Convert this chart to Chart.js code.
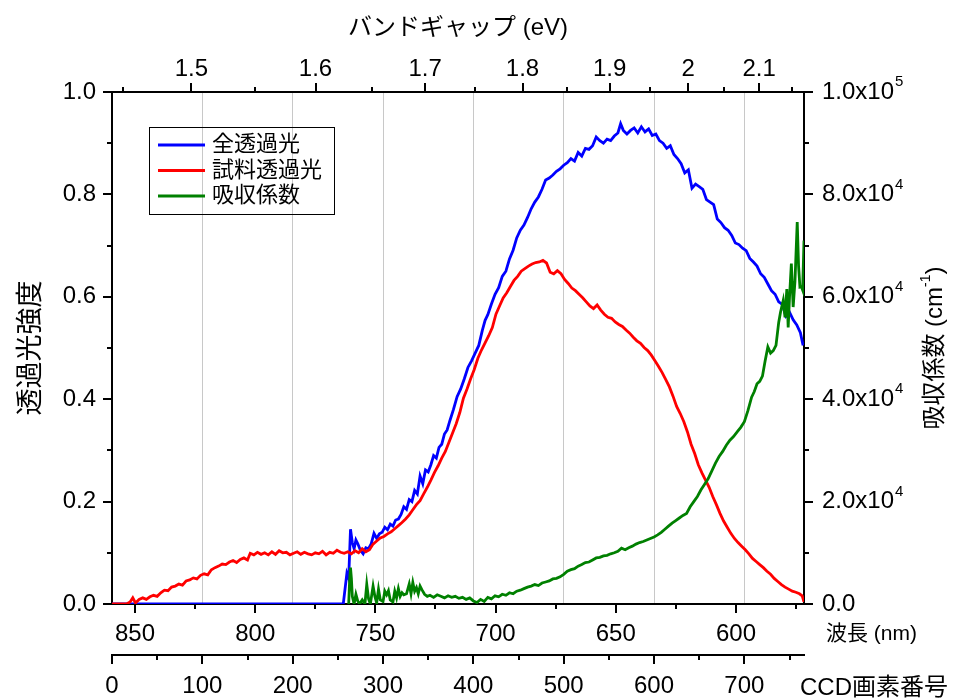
<!DOCTYPE html>
<html>
<head>
<meta charset="utf-8">
<script src="https://cdn.jsdelivr.net/npm/chart.js@4.4.1/dist/chart.umd.min.js"></script>
<style>
	html, body { margin: 0; padding: 0; background: #fff; }
</style>
</head>
<body>
<canvas id="myChart" width="959" height="700"></canvas>
<script>
// CCD pixel -> value
var blueCcd = [0, 256, 258, 260, 262, 264, 266, 268, 270, 272, 275, 278, 281, 284, 287, 290, 293, 296, 299, 302, 305, 308, 311, 314, 317, 320, 323, 326, 329, 332, 335, 338, 341, 344, 347, 350, 353, 356, 359, 362, 365, 368, 371, 374, 378, 382, 386, 390, 394, 398, 402, 406, 410, 413, 416, 420, 424, 428, 432, 436, 440, 444, 448, 452, 456, 460, 464, 468, 472, 476, 480, 484, 488, 492, 496, 500, 504, 508, 512, 516, 520, 524, 528, 532, 536, 540, 544, 548, 552, 556, 560, 563, 566, 570, 574, 578, 582, 586, 590, 594, 598, 602, 606, 610, 614, 618, 622, 626, 630, 634, 638, 642, 646, 650, 654, 658, 662, 666, 670, 674, 678, 682, 686, 690, 694, 698, 702, 706, 710, 714, 718, 722, 726, 730, 734, 738, 742, 746, 750, 754, 758, 762, 765];
var blueVal = [0, 0, 0.03, 0.06, 0.05, 0.146, 0.12, 0.108, 0.125, 0.118, 0.105, 0.098, 0.11, 0.108, 0.118, 0.138, 0.128, 0.137, 0.14, 0.15, 0.145, 0.156, 0.152, 0.164, 0.166, 0.175, 0.19, 0.185, 0.204, 0.2, 0.222, 0.215, 0.25, 0.235, 0.262, 0.258, 0.272, 0.29, 0.285, 0.306, 0.312, 0.332, 0.34, 0.358, 0.38, 0.405, 0.42, 0.44, 0.462, 0.475, 0.49, 0.505, 0.535, 0.554, 0.565, 0.586, 0.605, 0.618, 0.64, 0.65, 0.674, 0.691, 0.715, 0.73, 0.74, 0.755, 0.772, 0.785, 0.795, 0.81, 0.828, 0.832, 0.838, 0.845, 0.85, 0.857, 0.862, 0.87, 0.865, 0.882, 0.875, 0.89, 0.888, 0.895, 0.912, 0.905, 0.9, 0.908, 0.905, 0.914, 0.92, 0.938, 0.925, 0.918, 0.925, 0.93, 0.92, 0.932, 0.922, 0.928, 0.915, 0.918, 0.905, 0.9, 0.89, 0.895, 0.878, 0.87, 0.86, 0.842, 0.848, 0.812, 0.82, 0.815, 0.81, 0.79, 0.785, 0.78, 0.752, 0.745, 0.735, 0.73, 0.72, 0.705, 0.702, 0.695, 0.69, 0.675, 0.668, 0.66, 0.645, 0.638, 0.625, 0.612, 0.605, 0.59, 0.585, 0.562, 0.57, 0.555, 0.545, 0.53, 0.505];

var redCcd = [0, 16, 20, 23, 26, 30, 34, 38, 42, 46, 50, 54, 58, 62, 66, 70, 74, 78, 82, 86, 90, 94, 98, 102, 106, 110, 114, 118, 122, 126, 130, 134, 138, 142, 146, 150, 153, 157, 161, 165, 169, 173, 177, 181, 185, 189, 193, 197, 201, 205, 209, 213, 217, 221, 225, 229, 233, 237, 241, 245, 249, 253, 257, 261, 265, 269, 273, 277, 281, 285, 289, 293, 297, 301, 305, 309, 313, 317, 321, 325, 329, 333, 337, 341, 345, 349, 353, 357, 361, 365, 369, 373, 377, 381, 385, 389, 393, 397, 401, 405, 409, 413, 417, 421, 425, 429, 433, 437, 441, 445, 449, 453, 457, 461, 465, 469, 473, 477, 481, 485, 489, 493, 497, 501, 505, 509, 513, 517, 521, 525, 529, 533, 537, 541, 545, 549, 553, 557, 561, 565, 569, 573, 577, 581, 585, 589, 593, 597, 601, 605, 609, 613, 617, 621, 625, 629, 633, 637, 641, 645, 649, 653, 657, 661, 665, 669, 673, 677, 681, 685, 689, 693, 697, 701, 705, 709, 713, 717, 721, 725, 729, 733, 737, 741, 745, 749, 753, 757, 761, 764, 766];
var redVal = [0, 0, 0.004, 0.012, 0.002, 0.009, 0.012, 0.009, 0.014, 0.017, 0.015, 0.022, 0.027, 0.026, 0.033, 0.035, 0.039, 0.037, 0.045, 0.047, 0.051, 0.049, 0.056, 0.059, 0.057, 0.067, 0.071, 0.074, 0.078, 0.077, 0.082, 0.085, 0.081, 0.087, 0.09, 0.086, 0.099, 0.096, 0.101, 0.097, 0.1, 0.096, 0.102, 0.097, 0.104, 0.1, 0.101, 0.096, 0.099, 0.102, 0.097, 0.101, 0.098, 0.096, 0.1, 0.098, 0.103, 0.096, 0.101, 0.099, 0.105, 0.101, 0.099, 0.102, 0.098, 0.104, 0.1, 0.108, 0.102, 0.106, 0.117, 0.123, 0.129, 0.132, 0.137, 0.141, 0.147, 0.153, 0.159, 0.166, 0.174, 0.184, 0.194, 0.202, 0.215, 0.228, 0.242, 0.257, 0.27, 0.285, 0.298, 0.316, 0.334, 0.352, 0.374, 0.402, 0.42, 0.44, 0.458, 0.48, 0.496, 0.51, 0.524, 0.54, 0.566, 0.582, 0.598, 0.608, 0.62, 0.632, 0.64, 0.65, 0.655, 0.66, 0.664, 0.667, 0.668, 0.671, 0.666, 0.648, 0.645, 0.651, 0.645, 0.634, 0.626, 0.617, 0.612, 0.605, 0.598, 0.59, 0.582, 0.577, 0.584, 0.574, 0.566, 0.56, 0.558, 0.551, 0.546, 0.542, 0.535, 0.529, 0.521, 0.514, 0.509, 0.501, 0.495, 0.486, 0.475, 0.464, 0.452, 0.438, 0.424, 0.406, 0.386, 0.372, 0.356, 0.336, 0.312, 0.294, 0.272, 0.256, 0.242, 0.228, 0.21, 0.194, 0.177, 0.162, 0.15, 0.138, 0.128, 0.12, 0.113, 0.106, 0.098, 0.089, 0.083, 0.077, 0.071, 0.064, 0.058, 0.05, 0.044, 0.038, 0.033, 0.029, 0.025, 0.023, 0.02, 0.016, 0.004];

// absorption coefficient, cm^-1
var greenCcd = [262, 263, 264, 265, 266, 268, 270, 272, 274, 277, 280, 282, 284, 286, 289, 291, 293, 295, 297, 300, 302, 304, 306, 308, 311, 313, 315, 317, 319, 321, 323, 326, 329, 331, 333, 335, 337, 339, 341, 343, 346, 349, 352, 356, 360, 364, 368, 372, 376, 380, 384, 388, 392, 396, 400, 404, 408, 412, 416, 420, 424, 428, 432, 436, 440, 444, 448, 452, 456, 460, 464, 468, 472, 476, 480, 484, 488, 492, 496, 500, 504, 508, 512, 516, 520, 524, 528, 532, 536, 540, 544, 548, 552, 556, 560, 564, 568, 572, 576, 580, 584, 588, 592, 596, 600, 604, 608, 612, 616, 620, 624, 628, 632, 636, 640, 644, 648, 652, 656, 660, 664, 668, 672, 676, 680, 684, 688, 692, 696, 700, 704, 708, 711, 714, 717, 720, 723, 726, 729, 732, 735, 738, 740, 743, 745, 747, 748.5, 750, 752, 754, 756, 758.5, 760, 761.5, 763, 764.5, 766];
var greenVal = [0, 4500, 7100, 5000, 1500, 0, 1900, 600, 0, 800, 0, 3850, 1000, 0, 3500, 1500, 200, 2900, 800, 500, 2500, 1800, 2600, 800, 400, 2500, 1200, 3000, 1500, 2200, 1800, 2000, 3900, 2000, 4200, 2500, 3200, 2000, 3500, 2800, 1900, 1500, 1700, 1300, 1800, 1500, 1200, 1600, 1300, 1500, 1100, 1300, 900, 1200, 600, 300, 900, 500, 1300, 1000, 1600, 1400, 1900, 1700, 2200, 2000, 2500, 2700, 3000, 3300, 3500, 3800, 3600, 4100, 4300, 4500, 4900, 5000, 5300, 5800, 6400, 6700, 6900, 7400, 7700, 8100, 8200, 8600, 9000, 9100, 9400, 9500, 9800, 10000, 10300, 10900, 10600, 11000, 11300, 11700, 12000, 12200, 12500, 12800, 13100, 13500, 14000, 14600, 15200, 15800, 16300, 16800, 17300, 17700, 19000, 20000, 21000, 22300, 23400, 24500, 26000, 27500, 28800, 29800, 31000, 32000, 32700, 33600, 34500, 35600, 37800, 40400, 41500, 43000, 43500, 44500, 47500, 50200, 49000, 49500, 50500, 55000, 57000, 59300, 56000, 61500, 54000, 60000, 66500, 58000, 63000, 74600, 66000, 61900, 62000, 61300, 71000];

// axis ticks
var waveTicks = [850, 825, 800, 775, 750, 725, 700, 675, 650, 625, 600, 575];
var evTicks = [1.45, 1.5, 1.55, 1.6, 1.65, 1.7, 1.75, 1.8, 1.85, 1.9, 1.95, 2.0, 2.05, 2.1, 2.15];
var evLabels = ['', '1.5', '', '1.6', '', '1.7', '', '1.8', '', '1.9', '', '2', '', '2.1', ''];
var y2Labels = ['0.0', '', '2.0x10', '', '4.0x10', '', '6.0x10', '', '8.0x10', '', '1.0x10'];
var y2Exps = ['', '', '4', '', '4', '', '4', '', '4', '', '5'];

var CCD_MAX = 766;
var NM_AT_0 = 859.57, NM_PER_PX = 0.3758;   // wavelength calibration of the CCD
var FONT = "'Liberation Sans', 'Noto Sans CJK JP', sans-serif";

function nmOfCcd(c) { return NM_AT_0 - c * NM_PER_PX; }
function ccdOfNm(nm) { return (NM_AT_0 - nm) / NM_PER_PX; }

function pts(xs, ys) {
	return xs.map(function(x, i) { return {x: x, y: ys[i]}; });
}

function fixSize(prop, size) {
	return function(scale) { scale[prop] = size; };
}

var decorations = {
	id: 'decorations',
	afterDraw: function(chart) {
		var ctx = chart.ctx;
		ctx.save();
		ctx.strokeStyle = '#000';
		ctx.lineWidth = 2;
		['y', 'y2', 'ev', 'wave', 'ccd'].forEach(function(id) {
			var s = chart.scales[id];
			s.ticks.forEach(function(t) {
				var len = t.label ? 9 : 5;
				var p = Math.round(s.getPixelForValue(t.value));
				ctx.beginPath();
				if (id == 'y') { ctx.moveTo(s.right, p); ctx.lineTo(s.right - len, p); }
				else if (id == 'y2') { ctx.moveTo(s.left, p); ctx.lineTo(s.left + len, p); }
				else if (id == 'ev') { ctx.moveTo(p, s.bottom); ctx.lineTo(p, s.bottom - len); }
				else { ctx.moveTo(p, s.top); ctx.lineTo(p, s.top + len); }
				ctx.stroke();
			});
		});

		// exponents of the right-hand tick labels
		ctx.fillStyle = '#000';
		ctx.textBaseline = 'middle';
		ctx.textAlign = 'left';
		var s2 = chart.scales.y2;
		s2.ticks.forEach(function(t, i) {
			if (!y2Exps[i]) return;
			ctx.font = '24px ' + FONT;
			var w = ctx.measureText(t.label).width;
			ctx.font = '15px ' + FONT;
			ctx.fillText(y2Exps[i], s2.left + 18 + w + 1, s2.getPixelForValue(t.value) - 10);
		});

		// legend
		ctx.strokeStyle = '#000';
		ctx.lineWidth = 1;
		ctx.strokeRect(149.5, 127.5, 185, 87);
		ctx.font = '22px ' + FONT;
		chart.data.datasets.forEach(function(ds, i) {
			var y = 145 + i * 25.5;
			ctx.strokeStyle = ds.borderColor;
			ctx.lineWidth = 3;
			ctx.beginPath();
			ctx.moveTo(158, y);
			ctx.lineTo(205, y);
			ctx.stroke();
			ctx.fillText(ds.label, 212, y);
		});

		// axis names that Chart.js does not place this way
		ctx.font = '21px ' + FONT;
		ctx.fillText('波長 (nm)', 826, 634);
		ctx.font = '24px ' + FONT;
		ctx.fillText('CCD画素番号', 800, 688);

		// right title, reading upwards, with superscript
		ctx.translate(935, 348);
		ctx.rotate(-Math.PI / 2);
		var a = '吸収係数 (cm', b = '-1', c = ')';
		ctx.font = '24px ' + FONT;
		var wa = ctx.measureText(a).width, wc = ctx.measureText(c).width;
		ctx.font = '14px ' + FONT;
		var wb = ctx.measureText(b).width;
		var x0 = -(wa + wb + wc) / 2;
		ctx.font = '24px ' + FONT;
		ctx.fillText(a, x0, 0);
		ctx.fillText(c, x0 + wa + wb, 0);
		ctx.font = '14px ' + FONT;
		ctx.fillText(b, x0 + wa, -9);
		ctx.restore();
	}
};

var tickFont = {family: FONT, size: 24};
var border = {display: true, color: '#000', width: 2};

var chart = new Chart(document.getElementById('myChart').getContext('2d'), {
	type: 'line',
	data: {
		datasets: [{
			label: '全透過光',
			data: pts(blueCcd, blueVal),
			borderColor: '#0000ff',
			xAxisID: 'ccd', yAxisID: 'y',
			order: 3
		}, {
			label: '試料透過光',
			data: pts(redCcd, redVal),
			borderColor: '#ff0000',
			xAxisID: 'ccd', yAxisID: 'y',
			order: 2
		}, {
			label: '吸収係数',
			data: pts(greenCcd, greenVal),
			borderColor: '#008000',
			xAxisID: 'ccd', yAxisID: 'y2',
			order: 1
		}]
	},
	options: {
		responsive: false,
		animation: false,
		layout: {padding: 0},
		elements: {
			line: {borderWidth: 2.8, tension: 0, fill: false},
			point: {radius: 0}
		},
		plugins: {legend: {display: false}, tooltip: {enabled: false}},
		scales: {
			ccd: {
				type: 'linear', axis: 'x', position: 'bottom', weight: 1,
				min: 0, max: CCD_MAX,
				afterFit: fixSize('height', 45),
				afterBuildTicks: function(s) {
					s.ticks = [0, 50, 100, 150, 200, 250, 300, 350, 400, 450, 500, 550, 600, 650, 700, 750].map(function(v) { return {value: v}; });
				},
				ticks: {
					autoSkip: false, maxRotation: 0, padding: 17, color: '#000', font: tickFont,
					callback: function(v) { return v % 100 == 0 ? String(v) : ''; }
				},
				grid: {
					drawTicks: false,
					color: function(c) { return c.tick && c.tick.value % 100 == 0 && c.tick.value > 0 ? '#c8c8c8' : 'rgba(0,0,0,0)'; },
					lineWidth: 1
				},
				border: border
			},
			wave: {
				type: 'linear', axis: 'x', position: 'bottom', weight: 0,
				min: nmOfCcd(CCD_MAX), max: nmOfCcd(0), reverse: true,
				afterFit: fixSize('height', 51),
				afterBuildTicks: function(s) {
					s.ticks = waveTicks.map(function(v) { return {value: v}; });
				},
				ticks: {
					autoSkip: false, maxRotation: 0, padding: 16, color: '#000', font: tickFont,
					callback: function(v) { return v % 50 == 0 ? String(v) : ''; }
				},
				grid: {display: true, drawOnChartArea: false, drawTicks: false},
				border: border
			},
			ev: {
				type: 'linear', axis: 'x', position: 'top',
				min: 0, max: CCD_MAX,
				afterFit: fixSize('height', 92),
				afterBuildTicks: function(s) {
					s.ticks = evTicks.map(function(e) { return {value: ccdOfNm(1239.84 / e)}; });
				},
				ticks: {
					autoSkip: false, maxRotation: 0, padding: 8, color: '#000', font: tickFont,
					callback: function(v, i) { return evLabels[i]; }
				},
				grid: {display: true, drawOnChartArea: false, drawTicks: false},
				border: border,
				title: {display: true, text: 'バンドギャップ (eV)', color: '#000', font: {family: FONT, size: 24}, padding: {top: 14, bottom: 0}}
			},
			y: {
				type: 'linear', position: 'left',
				min: 0, max: 1,
				afterFit: fixSize('width', 112),
				afterBuildTicks: function(s) {
					s.ticks = [0, 0.1, 0.2, 0.3, 0.4, 0.5, 0.6, 0.7, 0.8, 0.9, 1].map(function(v) { return {value: v}; });
				},
				ticks: {
					autoSkip: false, padding: 16, color: '#000', font: tickFont,
					callback: function(v, i) { return i % 2 == 0 ? v.toFixed(1) : ''; }
				},
				grid: {display: true, drawOnChartArea: false, drawTicks: false},
				border: border,
				title: {display: true, text: '透過光強度', color: '#000', font: {family: FONT, size: 27}, padding: {top: 15, bottom: 0}}
			},
			y2: {
				type: 'linear', position: 'right',
				min: 0, max: 100000,
				afterFit: fixSize('width', 155),
				afterBuildTicks: function(s) {
					s.ticks = [0, 1, 2, 3, 4, 5, 6, 7, 8, 9, 10].map(function(v) { return {value: v * 10000}; });
				},
				ticks: {
					autoSkip: false, padding: 18, color: '#000', font: tickFont,
					callback: function(v, i) { return y2Labels[i]; }
				},
				grid: {display: true, drawOnChartArea: false, drawTicks: false},
				border: border
			}
		}
	},
	plugins: [decorations]
});
</script>
</body>
</html>
